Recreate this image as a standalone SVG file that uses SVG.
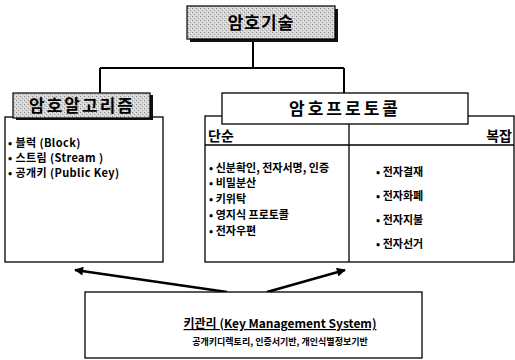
<svg xmlns="http://www.w3.org/2000/svg" width="515" height="360" viewBox="0 0 515 360">
<defs>
<pattern id="stip" width="4" height="4" patternUnits="userSpaceOnUse">
<rect width="4" height="4" fill="#d6d6d6"/>
<rect x="0" y="0" width="1" height="1" fill="#8a8a8a"/>
<rect x="2" y="2" width="1" height="1" fill="#9a9a9a"/>
<rect x="3" y="1" width="1" height="1" fill="#f2f2f2"/>
<rect x="1" y="3" width="1" height="1" fill="#f0f0f0"/>
</pattern>
<marker id="ah" viewBox="0 0 10 10" refX="9" refY="5" markerWidth="12" markerHeight="9" orient="auto" markerUnits="userSpaceOnUse">
<path d="M0,0 L10,5 L0,10 Z" fill="#000"/>
</marker>
<style>
.k{font-family:"Noto Sans CJK KR","Liberation Sans",sans-serif;font-weight:bold;fill:#000}
.box{fill:#fff;stroke:#000;stroke-width:1.3}
.ln{fill:none;stroke:#000;stroke-width:2}
</style>
</defs>
<g id="connectors">
<path class="ln" d="M253,40 V68 M100,68 H344 M100,68 V93 M344,68 V93"/>
<line x1="227" y1="292" x2="75" y2="270" stroke="#000" stroke-width="2.4" marker-end="url(#ah)"/>
<line x1="267" y1="292" x2="345" y2="270" stroke="#000" stroke-width="2.4" marker-end="url(#ah)"/>
</g>
<g id="n-top">
<rect x="190" y="9" width="148" height="33" fill="#111"/>
<rect x="187" y="6" width="148" height="33" fill="url(#stip)" stroke="#000" stroke-width="1.2"/>
<text class="k" x="261" y="29" font-size="17" letter-spacing="1" text-anchor="middle">암호기술</text>
</g>
<g id="n-alg">
<rect class="box" x="5" y="117" width="158" height="145"/>
<rect x="16" y="95" width="137" height="25" fill="#111"/>
<rect x="13" y="93" width="137" height="25" fill="url(#stip)" stroke="#000" stroke-width="1.2"/>
<text class="k" x="82" y="112" font-size="17" letter-spacing="2" text-anchor="middle">암호알고리즘</text>
<g class="k" font-size="11" letter-spacing="0.4">
<text x="8" y="147">• 블럭 (Block)</text>
<text x="8" y="162">• 스트림 (Stream )</text>
<text x="8" y="177">• 공개키 (Public Key)</text>
</g>
</g>
<g id="n-proto">
<rect class="box" x="205" y="116" width="309" height="146"/>
<line x1="205" y1="145" x2="514" y2="145" stroke="#000" stroke-width="1.5"/>
<line x1="349" y1="124" x2="349" y2="262" stroke="#000" stroke-width="1.3"/>
<rect class="box" x="222" y="93" width="246" height="31"/>
<text class="k" x="345" y="115" font-size="17" letter-spacing="3" text-anchor="middle">암호프로토콜</text>
<text class="k" x="208" y="141" font-size="14">단순</text>
<text class="k" x="512" y="141" font-size="14" text-anchor="end">복잡</text>
<g class="k" font-size="11">
<text x="209" y="172">• 신분확인, 전자서명, 인증</text>
<text x="209" y="187">• 비밀분산</text>
<text x="209" y="203">• 키위탁</text>
<text x="209" y="219">• 영지식 프로토콜</text>
<text x="209" y="235">• 전자우편</text>
<text x="376" y="176">• 전자결재</text>
<text x="376" y="200">• 전자화폐</text>
<text x="376" y="224">• 전자지불</text>
<text x="376" y="248">• 전자선거</text>
</g>
</g>
<g id="n-key">
<rect class="box" x="85" y="292" width="337" height="66"/>
<text class="k" x="280" y="328" font-size="12" text-anchor="middle" text-decoration="underline">키관리 (Key Management System)</text>
<text class="k" x="280" y="345" font-size="9" text-anchor="middle">공개키디렉토리, 인증서기반, 개인식별정보기반</text>
</g>
</svg>
